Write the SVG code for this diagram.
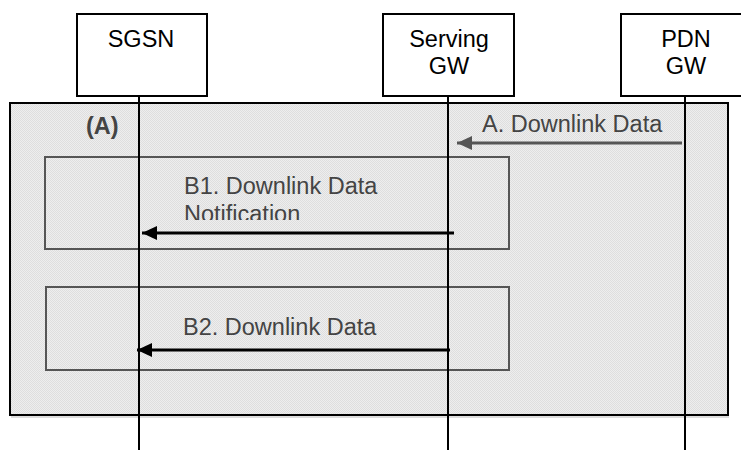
<svg xmlns="http://www.w3.org/2000/svg" width="741" height="450" viewBox="0 0 741 450">
<style>
.node{fill:#fff;stroke:#000;stroke-width:2}
.nt{font-family:"Liberation Sans",Arial,sans-serif;font-size:23.5px;fill:#000;text-anchor:middle}
.lt{font-family:"Liberation Sans",Arial,sans-serif;font-size:23.5px;fill:#444}
.life{stroke:#000;stroke-width:2;fill:none}
.sub{fill:none;stroke:#555;stroke-width:2}
.msg{stroke:#000;stroke-width:3;fill:none}
</style>
<defs>
<pattern id="dots" width="2" height="2" patternUnits="userSpaceOnUse">
<rect width="2" height="2" fill="#eeeeee"/>
<rect width="1" height="1" fill="#dedede"/>
<rect x="1" y="1" width="1" height="1" fill="#dedede"/>
</pattern>
<marker id="ahBlack" markerUnits="userSpaceOnUse" markerWidth="16" markerHeight="16" refX="15" refY="7" orient="auto">
<path d="M0,0 L15,7 L0,14 Z" fill="#000"/>
</marker>
<marker id="ahGray" markerUnits="userSpaceOnUse" markerWidth="16" markerHeight="16" refX="15" refY="7" orient="auto">
<path d="M0,0 L15,7 L0,14 Z" fill="#555"/>
</marker>
<clipPath id="b1clip"><rect x="40" y="150" width="480" height="70"/></clipPath>
</defs>

<g id="frame-A">
<rect x="10" y="103" width="718" height="312" fill="url(#dots)" stroke="#000" stroke-width="2"/>
<line x1="11" y1="417" x2="729" y2="417" stroke="#bbb" stroke-width="1"/>
<text class="lt" x="86" y="134" font-weight="bold" font-size="23px">(A)</text>
</g>

<g id="node-sgsn">
<rect class="node" x="77" y="14" width="130" height="82"/>
<text class="nt" x="141" y="47">SGSN</text>
</g>
<g id="node-serving-gw">
<rect class="node" x="383" y="14" width="131" height="82"/>
<text class="nt" x="449" y="47">Serving</text>
<text class="nt" x="449" y="74">GW</text>
</g>
<g id="node-pdn-gw">
<rect class="node" x="621" y="14" width="132" height="82"/>
<text class="nt" x="686" y="47">PDN</text>
<text class="nt" x="686" y="74">GW</text>
</g>

<g id="box-B1">
<rect class="sub" x="45" y="157" width="464" height="92"/>
<g clip-path="url(#b1clip)">
<text class="lt" x="184" y="194">B1. Downlink Data</text>
<text class="lt" x="184" y="222">Notification</text>
</g>
</g>
<g id="box-B2">
<rect class="sub" x="46" y="287" width="463" height="83"/>
<text class="lt" x="183" y="335">B2. Downlink Data</text>
</g>

<g id="connectors">
<line class="life" x1="139" y1="96" x2="139" y2="450"/>
<line class="life" x1="448" y1="96" x2="448" y2="450"/>
<line class="life" x1="685" y1="96" x2="685" y2="450"/>
<line x1="682" y1="143" x2="457" y2="143" stroke="#555" stroke-width="3" marker-end="url(#ahGray)"/>
<text class="lt" x="482" y="132">A. Downlink Data</text>
<line class="msg" x1="454" y1="233" x2="142" y2="233" marker-end="url(#ahBlack)"/>
<line class="msg" x1="450" y1="350" x2="137" y2="350" marker-end="url(#ahBlack)"/>
</g>
</svg>
